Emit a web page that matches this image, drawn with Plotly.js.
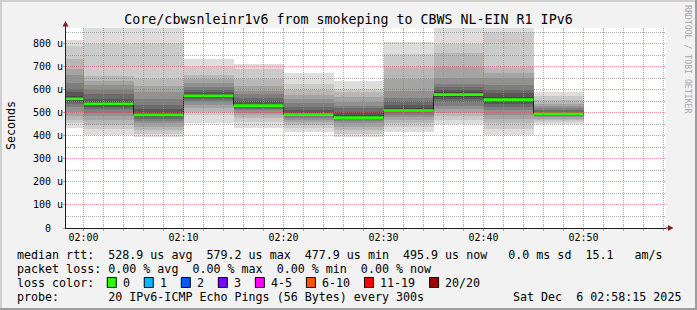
<!DOCTYPE html>
<html><head><meta charset="utf-8">
<script src="https://cdn.plot.ly/plotly-3.0.1.min.js"></script>
<style>html,body{margin:0;padding:0;background:#f2f2f2;}#chart{width:697px;height:310px;}</style>
</head><body><div id="chart"></div>
<script>
// ---------------- data ----------------
const day = '2025-12-06';
const endTimes = ['02:00','02:05','02:10','02:15','02:20','02:25','02:30','02:35','02:40','02:45','02:50'];
// 20 sorted ping round-trip times (microseconds) per 5-minute step
const ping_0200 = [434,455,470,485,505,525,540,548,555,560,562,575,590,605,630,665,690,735,790,814];
const ping_0205 = [404,430,448,470,485,500,515,525,532,537,541,548,560,580,600,620,640,660,800,880];
const ping_0210 = [396,410,425,440,455,465,475,482,487,490,492,500,515,535,560,590,615,645,805,880];
const ping_0215 = [457,490,505,520,535,548,557,565,570,574,576,582,590,600,612,628,645,662,700,735];
const ping_0220 = [435,460,478,490,500,510,518,524,528,531,533,540,550,565,580,595,615,645,690,713];
const ping_0225 = [418,432,445,458,468,477,484,488,491,493,494,500,510,525,543,558,578,600,625,672];
const ping_0230 = [396,410,425,440,455,465,472,476,478,479,480,490,505,520,530,545,570,590,605,636];
const ping_0235 = [418,440,455,470,482,492,500,505,508,510,511,520,535,550,565,595,645,700,755,807];
const ping_0240 = [452,468,485,500,515,530,545,560,570,578,580,590,600,612,625,650,700,760,800,880];
const ping_0245 = [404,430,456,475,490,510,525,540,550,556,558,570,585,600,620,650,672,700,850,880];
const ping_0250 = [450,460,468,475,480,485,489,492,494,495,497,500,505,512,520,530,540,556,575,592];
const medianRtt = [561,539,491,574,531,492,479,510,579,557,496];
const lossCategories = ['0','1','2','3','4-5','6-10','11-19','20/20'];
const lossColors = ['#26ff00','#00b8ff','#0059ff','#7e00ff','#ff00ff','#ff5500','#ff0000','#a10000'];
const yTickValues = [0,100,200,300,400,500,600,700,800];
const yTickText = ['0  ','100 u','200 u','300 u','400 u','500 u','600 u','700 u','800 u'];
const xTickLabels = ['02:00','02:10','02:20','02:30','02:40','02:50'];
const chartTitle = 'Core/cbwsnleinr1v6 from smokeping to CBWS NL-EIN R1 IPv6';
const yTitle = 'Seconds';
const legendLines = [
  'median rtt:  528.9 us avg  579.2 us max  477.9 us min  495.9 us now   0.0 ms sd  15.1   am/s',
  'packet loss: 0.00 % avg  0.00 % max  0.00 % min  0.00 % now',
  'loss color:',
  'probe:       20 IPv6-ICMP Echo Pings (56 Bytes) every 300s'
];
const timestamp = 'Sat Dec  6 02:58:15 2025';
const watermark = 'RRDTOOL / TOBI OETIKER';

// ---------------- build ----------------
const rtt = [ping_0200,ping_0205,ping_0210,ping_0215,ping_0220,ping_0225,ping_0230,ping_0235,ping_0240,ping_0245,ping_0250];
const STEP = 300000;
const xEnd = endTimes.map(t => `${day} ${t}:00`);
const endMs = endTimes.map(t => Date.parse(`${day}T${t}:00Z`));
const traces = [];
const half = 10;
for (let i = 0; i < half; i++) {
  const g = Math.floor(190 / half * (half - (i + 1))) + 50;
  traces.push({
    type: 'bar', x: xEnd, base: rtt.map(p => p[i]), y: rtt.map(p => p[19 - i] - p[i]),
    width: STEP, offset: -STEP, xaxis: 'x', yaxis: 'y', opacity: 1,
    marker: {color: `rgb(${g},${g},${g})`, opacity: 1, line: {width: 0}}, hoverinfo: 'skip', showlegend: false
  });
}
// dark median connector line (step)
traces.push({
  type: 'scatter', mode: 'lines', xaxis: 'x', yaxis: 'y',
  x: endMs.map(t => t - STEP).concat([endMs[endMs.length - 1]]),
  y: medianRtt.concat([medianRtt[medianRtt.length - 1]]),
  line: {shape: 'hv', color: '#202020', width: 1}, hoverinfo: 'skip', showlegend: false
});
// green median segments (loss 0), one per step, no vertical connectors
const gx = [], gy = [];
endMs.forEach((t, k) => { gx.push(t - STEP, t, null); gy.push(medianRtt[k], medianRtt[k], null); });
traces.push({
  type: 'scatter', mode: 'lines', xaxis: 'x', yaxis: 'y', x: gx, y: gy, connectgaps: false,
  line: {color: lossColors[0], width: 2.6}, hoverinfo: 'skip', showlegend: false
});
// empty trace to create grid overlay subplot
traces.push({type: 'scatter', x: [], y: [], xaxis: 'x2', yaxis: 'y2', showlegend: false, hoverinfo: 'skip'});

const L = 66, T = 28, W = 600, H = 200;
const px = x => (x - L) / W;
const py = y => (T + H - y) / H;
const range = [`${day} 01:58:15`, `${day} 02:58:15`];
const FONT = 'DejaVu Sans Mono';
const MGRID = 'rgba(222,79,79,0.6)';
const GRID = 'rgba(143,143,143,0.75)';
const nb = s => s.replace(/ /g, '\u00a0');

const shapes = [
  {type: 'rect', xref: 'paper', yref: 'paper', x0: 0, x1: 1, y0: 0, y1: 1, fillcolor: '#ffffff', line: {width: 0}, layer: 'below'},
  // axis extensions + arrows
  {type: 'line', xref: 'paper', yref: 'paper', x0: px(666), x1: px(669), y0: py(228), y1: py(228), line: {color: '#1f1f1f', width: 1}},
  {type: 'line', xref: 'paper', yref: 'paper', x0: px(65.5), x1: px(65.5), y0: py(228), y1: py(25), line: {color: '#1f1f1f', width: 1}},
  {type: 'path', xref: 'paper', yref: 'paper', path: `M ${px(668)},${py(225)} L ${px(673.5)},${py(228)} L ${px(668)},${py(231)} Z`, fillcolor: '#801f1f', line: {width: 0}},
  {type: 'path', xref: 'paper', yref: 'paper', path: `M ${px(62.5)},${py(26.5)} L ${px(65.5)},${py(21)} L ${px(68.5)},${py(26.5)} Z`, fillcolor: '#801f1f', line: {width: 0}},
  // frame
  {type: 'line', xref: 'paper', yref: 'paper', x0: px(0), x1: px(697), y0: py(1), y1: py(1), line: {color: '#cfcfcf', width: 2}},
  {type: 'line', xref: 'paper', yref: 'paper', x0: px(1), x1: px(1), y0: py(0), y1: py(310), line: {color: '#cfcfcf', width: 2}},
  {type: 'line', xref: 'paper', yref: 'paper', x0: px(0), x1: px(697), y0: py(309), y1: py(309), line: {color: '#9e9e9e', width: 2}},
  {type: 'line', xref: 'paper', yref: 'paper', x0: px(696), x1: px(696), y0: py(0), y1: py(310), line: {color: '#9e9e9e', width: 2}}
];

const CW = 7.02, LX = 16, FS = 11.66;
const rowsY = [254.5, 268.5, 282.5, 296.5];
const annotations = [];
legendLines.forEach((t, i) => annotations.push({
  xref: 'paper', yref: 'paper', x: px(LX), y: py(rowsY[i]), xanchor: 'left', yanchor: 'middle',
  text: nb(t), showarrow: false, borderpad: 0, font: {family: FONT, size: FS, color: '#000'}
}));
annotations.push({
  xref: 'paper', yref: 'paper', x: px(681.5), y: py(rowsY[3]), xanchor: 'right', yanchor: 'middle',
  text: nb(timestamp), showarrow: false, borderpad: 0, font: {family: FONT, size: FS, color: '#000'}
});
let bx = LX + 13 * CW;
lossCategories.forEach((c, i) => {
  shapes.push({type: 'rect', xref: 'paper', yref: 'paper', x0: px(bx), x1: px(bx + 9), y0: py(277.5), y1: py(287.5),
    fillcolor: lossColors[i], line: {color: '#000', width: 1}});
  annotations.push({xref: 'paper', yref: 'paper', x: px(bx + 14.7), y: py(rowsY[2]), xanchor: 'left', yanchor: 'middle',
    text: nb(c), showarrow: false, borderpad: 0, font: {family: FONT, size: FS, color: '#000'}});
  bx += 30 + c.length * CW;
});
annotations.push({xref: 'paper', yref: 'paper', x: px(11), y: py(126), xanchor: 'center', yanchor: 'middle',
  text: yTitle, textangle: -90, showarrow: false, borderpad: 0, font: {family: FONT, size: FS, color: '#000'}});
annotations.push({xref: 'paper', yref: 'paper', x: px(688), y: py(59), xanchor: 'center', yanchor: 'middle',
  text: nb(watermark), textangle: 90, showarrow: false, borderpad: 0, font: {family: FONT, size: 8.2, color: '#a8a8a8'}});

const xTickVals = xTickLabels.map(t => `${day} ${t}:00`);
const layout = {
  width: 697, height: 310, margin: {l: L, r: 697 - L - W, t: T, b: 310 - T - H, pad: 0},
  paper_bgcolor: '#f2f2f2', plot_bgcolor: 'rgba(0,0,0,0)',
  barmode: 'overlay', bargap: 0, showlegend: false, hovermode: false,
  font: {family: FONT, size: 10, color: '#000'},
  title: {text: chartTitle, x: 0.5, xanchor: 'center', y: 1 - 19 / 310, yanchor: 'middle', font: {family: FONT, size: 13.3, color: '#000'}},
  xaxis: {type: 'date', range: range, domain: [0, 1], anchor: 'y', showgrid: false, zeroline: false,
    showline: true, linecolor: '#1f1f1f', linewidth: 1, layer: 'above traces',
    tickmode: 'array', tickvals: xTickVals, ticktext: xTickLabels, ticklabelstandoff: -2,
    ticks: 'outside', ticklen: 2, tickcolor: MGRID, tickfont: {family: FONT, size: 10, color: '#000'},
    minor: {ticks: 'outside', ticklen: 2, tickcolor: GRID, dtick: 120000, tick0: `${day} 02:00:00`, showgrid: false}},
  yaxis: {range: [0, 868], domain: [0, 1], anchor: 'x', showgrid: false, zeroline: false,
    showline: true, linecolor: '#1f1f1f', linewidth: 1, layer: 'above traces',
    tickmode: 'array', tickvals: yTickValues, ticktext: yTickText.map(nb), ticklabelstandoff: -2,
    ticks: 'outside', ticklen: 2, tickcolor: MGRID, tickfont: {family: FONT, size: 10, color: '#000'}},
  xaxis2: {type: 'date', range: range, domain: [0, 1], anchor: 'y2', zeroline: false, showline: false,
    showticklabels: false, ticks: '', tickmode: 'linear', dtick: 600000, tick0: `${day} 02:00:00`,
    showgrid: true, gridcolor: MGRID, griddash: '1px,1px', gridwidth: 1,
    minor: {showgrid: true, gridcolor: GRID, griddash: '1px,1px', gridwidth: 1, dtick: 120000, tick0: `${day} 02:00:00`}},
  yaxis2: {range: [0, 868], domain: [0, 1], anchor: 'x2', zeroline: false, showline: false,
    showticklabels: false, ticks: '', tickmode: 'array', tickvals: yTickValues.slice(1),
    showgrid: true, gridcolor: MGRID, griddash: '1px,1px', gridwidth: 1,
    minor: {showgrid: true, gridcolor: GRID, griddash: '1px,1px', gridwidth: 1, tickmode: 'array',
      tickvals: yTickValues.map(v => v + 50)}},
  shapes: shapes, annotations: annotations
};
Plotly.newPlot('chart', traces, layout, {staticPlot: true, displayModeBar: false});
</script></body></html>
